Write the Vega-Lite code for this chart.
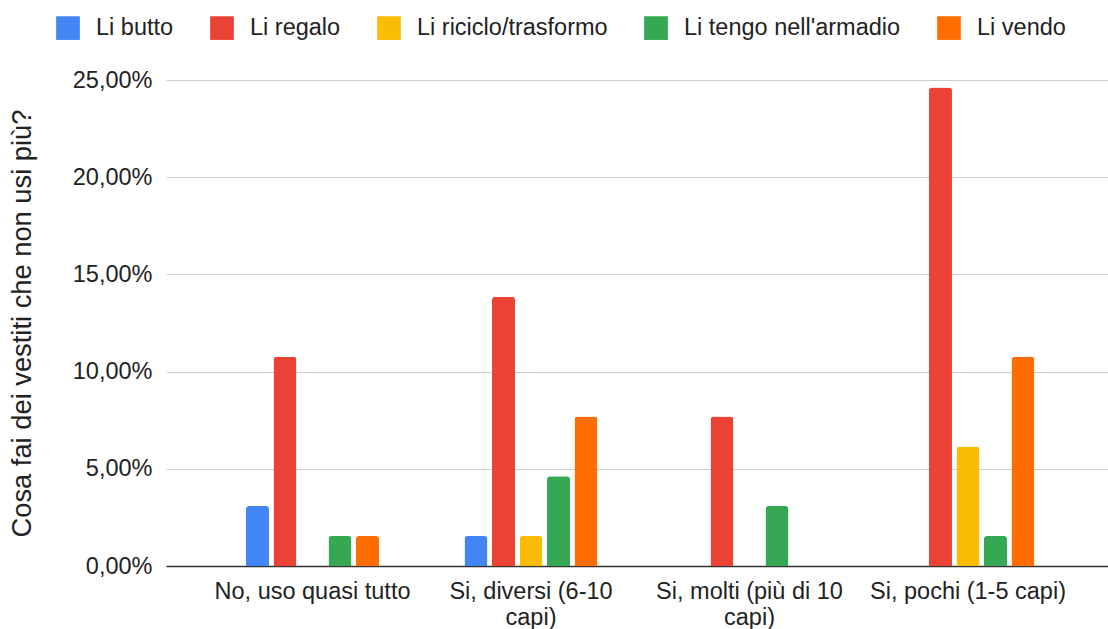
{
  "$schema": "https://vega.github.io/schema/vega-lite/v6.json",
  "autosize": "none",
  "width": 942,
  "height": 486,
  "padding": {"left": 166, "top": 80, "right": 0, "bottom": 63},
  "background": "white",
  "data": {
    "values": [
      {"categoria": "No, uso quasi tutto", "risposta": "Li butto", "quota": 0.0308},
      {"categoria": "No, uso quasi tutto", "risposta": "Li regalo", "quota": 0.1077},
      {"categoria": "No, uso quasi tutto", "risposta": "Li tengo nell'armadio", "quota": 0.0154},
      {"categoria": "No, uso quasi tutto", "risposta": "Li vendo", "quota": 0.0154},
      {"categoria": "Si, diversi (6-10 capi)", "risposta": "Li butto", "quota": 0.0154},
      {"categoria": "Si, diversi (6-10 capi)", "risposta": "Li regalo", "quota": 0.1385},
      {"categoria": "Si, diversi (6-10 capi)", "risposta": "Li riciclo/trasformo", "quota": 0.0154},
      {"categoria": "Si, diversi (6-10 capi)", "risposta": "Li tengo nell'armadio", "quota": 0.0462},
      {"categoria": "Si, diversi (6-10 capi)", "risposta": "Li vendo", "quota": 0.0769},
      {"categoria": "Si, molti (più di 10 capi)", "risposta": "Li regalo", "quota": 0.0769},
      {"categoria": "Si, molti (più di 10 capi)", "risposta": "Li tengo nell'armadio", "quota": 0.0308},
      {"categoria": "Si, pochi (1-5 capi)", "risposta": "Li regalo", "quota": 0.2462},
      {"categoria": "Si, pochi (1-5 capi)", "risposta": "Li riciclo/trasformo", "quota": 0.0615},
      {"categoria": "Si, pochi (1-5 capi)", "risposta": "Li tengo nell'armadio", "quota": 0.0154},
      {"categoria": "Si, pochi (1-5 capi)", "risposta": "Li vendo", "quota": 0.1077}
    ]
  },
  "mark": {"type": "bar", "cornerRadiusTopLeft": 3, "cornerRadiusTopRight": 3},
  "encoding": {
    "x": {
      "field": "categoria",
      "type": "nominal",
      "sort": ["No, uso quasi tutto", "Si, diversi (6-10 capi)", "Si, molti (più di 10 capi)", "Si, pochi (1-5 capi)"],
      "scale": {"paddingInner": 0.3707, "paddingOuter": 0.341, "align": 0.5218},
      "axis": {
        "title": null,
        "labelAngle": 0,
        "ticks": false,
        "tickSize": 0,
        "labelPadding": 13,
        "labelFont": "Liberation Sans",
        "labelFontSize": 23.5,
        "labelColor": "#222222",
        "labelLineHeight": 26,
        "labelBaseline": "top",
        "labelLimit": 400,
        "labelOverlap": false,
        "domainColor": "#333333",
        "domainWidth": 1.3,
        "labelExpr": "datum.label == 'Si, diversi (6-10 capi)' ? ['Si, diversi (6-10', 'capi)'] : datum.label == 'Si, molti (più di 10 capi)' ? ['Si, molti (più di 10', 'capi)'] : datum.label"
      }
    },
    "xOffset": {
      "field": "risposta",
      "type": "nominal",
      "scale": {"paddingInner": 0.164, "paddingOuter": 0.082}
    },
    "y": {
      "field": "quota",
      "type": "quantitative",
      "scale": {"domain": [0, 0.25], "nice": false},
      "axis": {
        "title": "Cosa fai dei vestiti che non usi più?",
        "titleFont": "Liberation Sans",
        "titleFontSize": 27.3,
        "titleFontWeight": "normal",
        "titleColor": "#222222",
        "titleX": -144,
        "titleY": 243,
        "titleAngle": -90,
        "titleAlign": "center",
        "titleBaseline": "middle",
        "values": [0, 0.05, 0.1, 0.15, 0.2, 0.25],
        "labelExpr": "replace(format(datum.value, '.2%'), '.', ',')",
        "labelFont": "Liberation Sans",
        "labelFontSize": 23.5,
        "labelColor": "#222222",
        "labelPadding": 14,
        "ticks": false,
        "tickSize": 0,
        "domain": false,
        "gridColor": "#cccccc",
        "gridWidth": 1
      }
    },
    "color": {
      "field": "risposta",
      "type": "nominal",
      "scale": {
        "domain": ["Li butto", "Li regalo", "Li riciclo/trasformo", "Li tengo nell'armadio", "Li vendo"],
        "range": ["#4285F4", "#EA4335", "#FBBC04", "#34A853", "#FF6D01"]
      },
      "legend": {
        "title": null,
        "orient": "none",
        "direction": "horizontal",
        "legendX": -110,
        "legendY": -64,
        "padding": 0,
        "symbolType": "square",
        "symbolSize": 560,
        "symbolStrokeWidth": 0,
        "symbolOpacity": 1,
        "labelFont": "Liberation Sans",
        "labelFontSize": 23.5,
        "labelColor": "#222222",
        "labelOffset": 16,
        "columnPadding": 36,
        "labelLimit": 400
      }
    }
  },
  "config": {"view": {"stroke": null}}
}
